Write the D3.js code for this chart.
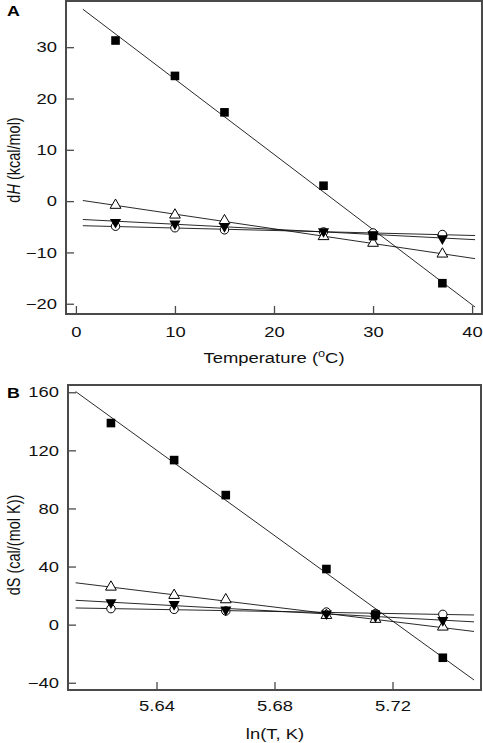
<!DOCTYPE html>
<html>
<head>
<meta charset="utf-8">
<script src="https://cdn.jsdelivr.net/npm/d3@7"></script>
<style>
  body { margin: 0; background: #fff; }
  svg { display: block; font-family: "Liberation Sans", Arial, Helvetica, sans-serif; }
</style>
</head>
<body>
<svg id="chart" width="483" height="743"></svg>
<script>
// ---------- data ----------
const temperatures = [4, 10, 15, 25, 30, 37];            // °C
const fitRangeT = [0.7, 40.3];                           // span of fitted lines, °C

// Panel A: dH (kcal/mol)
const dH_square   = [31.3, 24.4, 17.3, 3.0, -6.8, -16.0];
const dH_triUp    = [-0.8, -2.7, -3.8, -6.9, -8.2, -10.3];
const dH_triDown  = [-4.1, -4.4, -4.9, -5.9, -6.5, -7.3];
const dH_circle   = [-4.9, -5.2, -5.6, -6.0, -6.2, -6.5];

// Panel B: dS (cal/(mol K))
const dS_square   = [138.8, 113.3, 89.2, 38.3, 7.0, -22.8];
const dS_triUp    = [25.9, 20.2, 17.2, 6.4, 3.7, -1.6];
const dS_triDown  = [15.2, 14.0, 10.3, 7.6, 5.7, 3.0];
const dS_circle   = [11.0, 10.5, 9.4, 8.7, 7.6, 7.1];

const ticksA_x = [0, 10, 20, 30, 40];
const ticksA_y = [-20, -10, 0, 10, 20, 30];
const ticksB_x = [5.64, 5.68, 5.72];
const ticksB_y = [-40, 0, 40, 80, 120, 160];

const KELVIN = 273.15;
const FS = 14.5;         // font size
const SX = 1.27;         // horizontal stretch of the lettering

// ---------- helpers ----------
function linfit(xs, ys) {
  const n = xs.length;
  const mx = d3.mean(xs), my = d3.mean(ys);
  let sxy = 0, sxx = 0;
  for (let i = 0; i < n; i++) { sxy += (xs[i]-mx)*(ys[i]-my); sxx += (xs[i]-mx)**2; }
  const b = sxy / sxx;
  return { slope: b, intercept: my - b*mx };
}

const svg = d3.select("#chart");

function drawPanel(cfg) {
  const g = svg.append("g");
  const x = d3.scaleLinear().domain(cfg.xDomain).range([cfg.left, cfg.right]);
  const y = d3.scaleLinear().domain(cfg.yDomain).range([cfg.bottom, cfg.top]);

  const series = cfg.series;
  series.forEach(s => {
    const f = linfit(cfg.xs, s.values);
    const x0 = cfg.fitX[0], x1 = cfg.fitX[1];
    g.append("line")
      .attr("x1", x(x0)).attr("y1", y(f.intercept + f.slope*x0))
      .attr("x2", x(x1)).attr("y2", y(f.intercept + f.slope*x1))
      .attr("stroke", "#111").attr("stroke-width", 0.9);
  });

  const order = ["circle", "triUp", "triDown", "square"];
  order.forEach(kind => {
    const s = series.find(d => d.kind === kind);
    s.values.forEach((v, i) => {
      const cx = x(cfg.xs[i]), cy = y(v);
      if (kind === "square") {
        g.append("rect").attr("x", cx-4.3).attr("y", cy-4.3)
          .attr("width", 8.6).attr("height", 8.6).attr("fill", "#000");
      } else if (kind === "circle") {
        g.append("circle").attr("cx", cx).attr("cy", cy).attr("r", 4.2)
          .attr("fill", "#fff").attr("stroke", "#000").attr("stroke-width", 1);
      } else if (kind === "triUp") {
        g.append("path")
          .attr("d", d3.symbol(d3.symbolTriangle, 50)())
          .attr("transform", `translate(${cx},${cy})`)
          .attr("fill", "#fff").attr("stroke", "#000").attr("stroke-width", 1);
      } else if (kind === "triDown") {
        g.append("path")
          .attr("d", d3.symbol(d3.symbolTriangle, 54)())
          .attr("transform", `translate(${cx},${cy}) rotate(180)`)
          .attr("fill", "#000");
      }
    });
  });

  const ax = g.append("g").attr("transform", `translate(0,${cfg.bottom})`)
    .call(d3.axisBottom(x).tickValues(cfg.xTicks).tickSize(-8).tickPadding(cfg.xPad)
      .tickFormat(cfg.xFormat));
  const ay = g.append("g").attr("transform", `translate(${cfg.left},0)`)
    .call(d3.axisLeft(y).tickValues(cfg.yTicks).tickSize(-8).tickPadding(9));
  [ax, ay].forEach(a => {
    a.select(".domain").remove();
    a.selectAll("line").attr("stroke", "#4a4a4a").attr("stroke-width", 1.3);
    a.selectAll("text").each(function() {
      const t = d3.select(this);
      const tx = +t.attr("x") || 0, ty = +t.attr("y") || 0;
      t.attr("x", 0).attr("y", 0)
        .attr("transform", `translate(${tx},${ty}) scale(${SX},1)`);
    })
    .attr("font-size", FS).attr("fill", "#111")
    .attr("font-family", "Liberation Sans, Arial, sans-serif");
  });

  g.append("rect")
    .attr("x", cfg.left).attr("y", cfg.top)
    .attr("width", cfg.right - cfg.left).attr("height", cfg.bottom - cfg.top)
    .attr("fill", "none").attr("stroke", "#4a4a4a").attr("stroke-width", 2);

  return { g, x, y };
}

// ---------- Panel A ----------
drawPanel({
  left: 66, right: 482, top: 1, bottom: 314,
  xDomain: [-1, 41], yDomain: [-22, 39],
  xs: temperatures, fitX: fitRangeT,
  xTicks: ticksA_x, yTicks: ticksA_y, xPad: 13, xFormat: d3.format("d"),
  series: [
    { kind: "square",  values: dH_square },
    { kind: "triUp",   values: dH_triUp },
    { kind: "triDown", values: dH_triDown },
    { kind: "circle",  values: dH_circle }
  ]
});

// ---------- Panel B ----------
const lnT = temperatures.map(t => Math.log(t + KELVIN));
drawPanel({
  left: 68, right: 481, top: 385, bottom: 690,
  xDomain: [5.61, 5.75], yDomain: [-45, 165],
  xs: lnT, fitX: fitRangeT.map(t => Math.log(t + KELVIN)),
  xTicks: ticksB_x, yTicks: ticksB_y, xPad: 11, xFormat: d3.format(".2f"),
  series: [
    { kind: "square",  values: dS_square },
    { kind: "triUp",   values: dS_triUp },
    { kind: "triDown", values: dS_triDown },
    { kind: "circle",  values: dS_circle }
  ]
});

// ---------- titles and panel letters ----------
function stretched(x, y, extra) {
  return `translate(${x},${y}) scale(${SX},1)` + (extra ? " " + extra : "");
}
svg.append("text").attr("transform", stretched(7, 16)).attr("font-size", 14)
  .attr("font-weight", "bold").text("A");
svg.append("text").attr("transform", stretched(7, 398)).attr("font-size", 14)
  .attr("font-weight", "bold").text("B");

const xtA = svg.append("text").attr("transform", stretched(274, 363))
  .attr("text-anchor", "middle").attr("font-size", FS).attr("fill", "#111");
xtA.append("tspan").text("Temperature (");
xtA.append("tspan").attr("font-size", 10).attr("dy", -6).text("o");
xtA.append("tspan").attr("dy", 6).text("C)");

svg.append("text").attr("transform", stretched(275, 739))
  .attr("text-anchor", "middle").attr("font-size", FS).attr("fill", "#111")
  .text("ln(T, K)");

const ytA = svg.append("text").attr("transform", stretched(20, 160, "rotate(-90)"))
  .attr("text-anchor", "middle").attr("font-size", FS).attr("fill", "#111");
ytA.append("tspan").text("d");
ytA.append("tspan").attr("font-style", "italic").text("H");
ytA.append("tspan").text(" (kcal/mol)");

svg.append("text").attr("transform", stretched(20, 545, "rotate(-90)"))
  .attr("text-anchor", "middle").attr("font-size", FS).attr("fill", "#111")
  .text("dS (cal/(mol K))");
</script>
</body>
</html>
